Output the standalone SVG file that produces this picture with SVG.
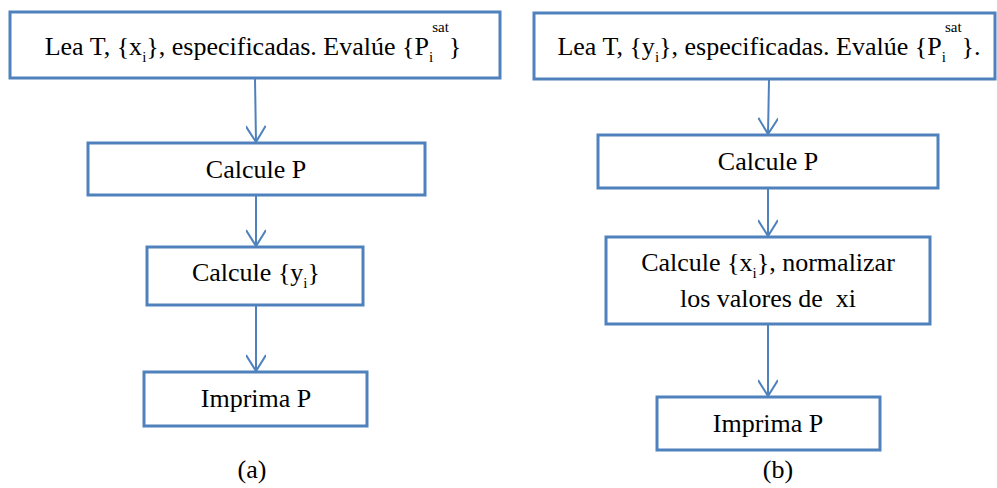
<svg xmlns="http://www.w3.org/2000/svg" width="997" height="488" viewBox="0 0 997 488">
  <style>
    .box { fill: #ffffff; stroke: #4f81bd; stroke-width: 3; }
    .lbl { font-family: "Liberation Serif", "Times New Roman", serif; font-size: 26px; fill: #000000; text-anchor: middle; }
    .sub { font-size: 15px; }
    .link { stroke: #4f81bd; stroke-width: 2; fill: none; marker-end: url(#vhead); }
  </style>
  <defs>
    <!-- open V arrowhead, drawn along +x so orient="auto" follows the line -->
    <marker id="vhead" viewBox="0 0 20 20" refX="18" refY="10" markerWidth="20" markerHeight="20" markerUnits="userSpaceOnUse" orient="auto">
      <path d="M2,0 L18,10 L2,20" fill="none" stroke="#4f81bd" stroke-width="2"/>
    </marker>
  </defs>
  <rect width="997" height="488" fill="#ffffff"/>

  <!-- flowchart (a) -->
  <g id="a-read">
    <rect class="box" x="10" y="12" width="490" height="66"/>
    <text class="lbl" x="253" y="55">Lea T, {x<tspan class="sub" dy="7">i</tspan><tspan dy="-7">}, especificadas. Evalúe {P</tspan><tspan class="sub" dy="7">i</tspan><tspan class="sub" dx="-1" dy="-30">sat</tspan><tspan dy="23">}</tspan></text>
  </g>
  <g id="a-calc-p">
    <rect class="box" x="88" y="143" width="337" height="52"/>
    <text class="lbl" x="256" y="178">Calcule P</text>
  </g>
  <g id="a-calc-y">
    <rect class="box" x="147" y="247" width="216" height="58"/>
    <text class="lbl" x="256" y="281">Calcule {y<tspan class="sub" dy="7">i</tspan><tspan dy="-7">}</tspan></text>
  </g>
  <g id="a-print">
    <rect class="box" x="144" y="372" width="223" height="54"/>
    <text class="lbl" x="256" y="407">Imprima P</text>
  </g>
  <text id="a-caption" class="lbl" x="252" y="478">(a)</text>

  <!-- flowchart (b) -->
  <g id="b-read">
    <rect class="box" x="534" y="13" width="461" height="66"/>
    <text class="lbl" x="769" y="55">Lea T, {y<tspan class="sub" dy="7">i</tspan><tspan dy="-7">}, especificadas. Evalúe {P</tspan><tspan class="sub" dy="7">i</tspan><tspan class="sub" dx="-1" dy="-30">sat</tspan><tspan dy="23">}.</tspan></text>
  </g>
  <g id="b-calc-p">
    <rect class="box" x="598" y="135" width="340" height="53"/>
    <text class="lbl" x="768" y="170">Calcule P</text>
  </g>
  <g id="b-calc-x">
    <rect class="box" x="606" y="237" width="324" height="87"/>
    <text class="lbl" x="768" y="271">Calcule {x<tspan class="sub" dy="7">i</tspan><tspan dy="-7">}, normalizar</tspan></text>
    <text class="lbl" x="768" y="307">los valores de&#160; xi</text>
  </g>
  <g id="b-print">
    <rect class="box" x="657" y="397" width="223" height="53"/>
    <text class="lbl" x="768" y="432">Imprima P</text>
  </g>
  <text id="b-caption" class="lbl" x="778" y="478">(b)</text>

  <!-- connectors -->
  <g id="connectors">
    <line class="link" x1="255" y1="79" x2="256" y2="142"/>
    <line class="link" x1="256" y1="196" x2="256" y2="246"/>
    <line class="link" x1="256" y1="306" x2="256" y2="371"/>
    <line class="link" x1="769" y1="80" x2="768" y2="134"/>
    <line class="link" x1="768" y1="189" x2="768" y2="236"/>
    <line class="link" x1="768" y1="325" x2="768" y2="396"/>
  </g>
</svg>
